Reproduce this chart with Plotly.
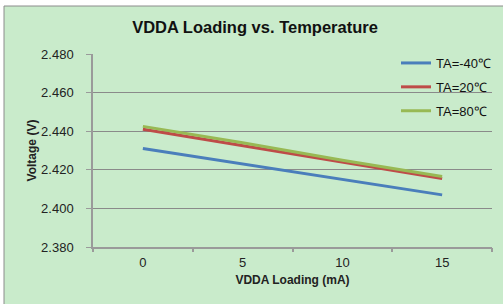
import plotly.graph_objects as go

loading = [0, 5, 10, 15]
ta_m40 = [2.431, 2.423, 2.415, 2.407]
ta_20 = [2.441, 2.4325, 2.424, 2.4155]
ta_80 = [2.4425, 2.434, 2.425, 2.4165]
names = ["TA=-40℃", "TA=20℃", "TA=80℃"]
colors = ["#4A7EBB", "#BE4B48", "#98B954"]

fig = go.Figure()
for i, (ys, nm, c) in enumerate(zip([ta_m40, ta_20, ta_80], names, colors)):
    fig.add_trace(go.Scatter(x=loading, y=ys, mode="lines", name=nm,
                             line=dict(color=c, width=3), legendgroup=str(i)))

# invisible trace to carry the tick-mark axis
fig.add_trace(go.Scatter(x=loading, y=ta_m40, xaxis="x2", mode="lines",
                         line=dict(width=0), showlegend=False, hoverinfo="skip", opacity=0))

W, H = 503, 304
L, R, T, B = 93, 11, 54, 57
pw, ph = W - L - R, H - T - B

def px(x):
    return (x - L) / pw

def py(y):
    return (H - B - y) / ph

fig.update_layout(
    width=W, height=H,
    margin=dict(l=L, r=R, t=T, b=B, autoexpand=False),
    paper_bgcolor="white",
    plot_bgcolor="rgba(0,0,0,0)",
    font=dict(family="Arial, Liberation Sans, sans-serif", size=11, color="#222"),
    title=dict(text="<b>VDDA Loading vs. Temperature</b>", xref="container", x=255 / W,
               xanchor="center", yref="container", y=1 - 27 / H, yanchor="middle",
               font=dict(size=16.5, color="#111")),
    shapes=[dict(type="rect", xref="paper", yref="paper", layer="below",
                 x0=px(4), x1=px(515), y0=py(315), y1=py(6),
                 fillcolor="#C9EBCB", line=dict(color="#8C8C8C", width=1))],
    xaxis=dict(range=[-2.5, 17.5], tickmode="array", tickvals=loading,
               ticktext=[str(v) for v in loading], ticks="", showgrid=False,
               zeroline=False, showline=True, linecolor="#9A9A9A", linewidth=1.5,
               ticklabelstandoff=3, automargin=False,
               title=dict(text="<b>VDDA Loading (mA)</b>", font=dict(size=12), standoff=6),
               tickfont=dict(size=13, color="#222")),
    xaxis2=dict(range=[-2.5, 17.5], overlaying="x", anchor="y", side="bottom",
                tickmode="array", tickvals=[-2.5, 2.5, 7.5, 12.5, 17.5],
                ticks="outside", ticklen=4, tickcolor="#9A9A9A", tickwidth=1.5,
                showticklabels=False, showgrid=False, zeroline=False, showline=False,
                automargin=False),
    yaxis=dict(range=[2.38, 2.48], tickmode="array",
               tickvals=[2.38, 2.40, 2.42, 2.44, 2.46, 2.48], tickformat=".3f",
               ticks="outside", ticklen=5, tickcolor="#9A9A9A",
               showgrid=True, gridcolor="#8A8A8A", gridwidth=1,
               zeroline=False, showline=True, linecolor="#9A9A9A", linewidth=1.5,
               ticklabelstandoff=10, automargin=False,
               title=dict(text="<b>Voltage (V)</b>", font=dict(size=12), standoff=2),
               tickfont=dict(size=13, color="#222")),
    legend=dict(x=px(396), y=py(48), xanchor="left", yanchor="top",
                bgcolor="rgba(0,0,0,0)", font=dict(size=13, color="#111"),
                tracegroupgap=4, itemwidth=30),
    showlegend=True,
)

fig.write_html("out.html", config={"displayModeBar": False},
               post_script="document.body.style.margin='0';document.body.style.overflow='hidden';")
